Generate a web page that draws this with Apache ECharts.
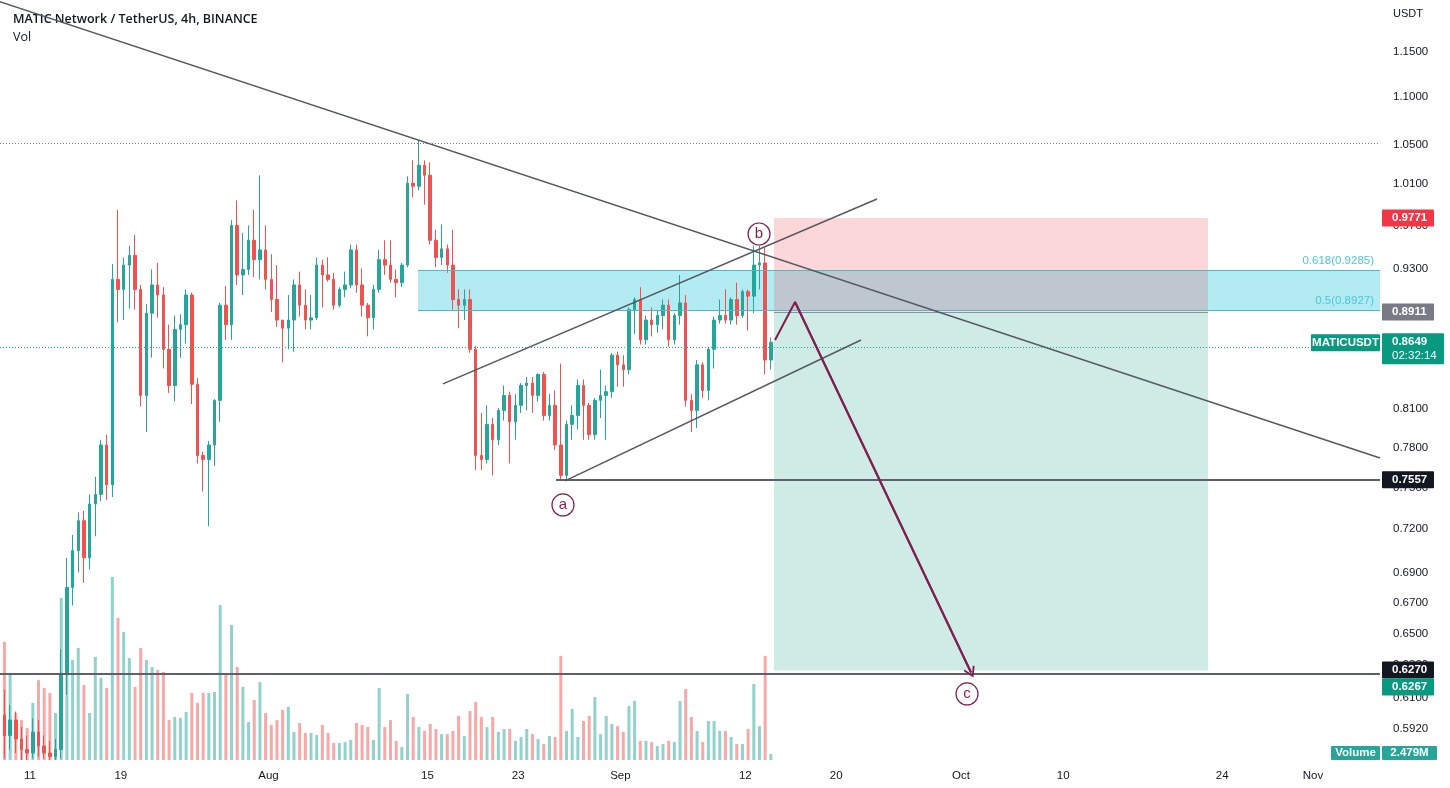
<!DOCTYPE html>
<html><head><meta charset="utf-8">
<script src="https://cdn.jsdelivr.net/npm/echarts@6/dist/echarts.min.js"></script>
<style>html,body{margin:0;padding:0;background:#fff}#c{width:1450px;height:788px}</style>
</head><body><div id="c"></div>
<script>
// ---------- DATA (12h candles, MATIC/USDT) ----------
const candleStart = '2022-07-08T12:00Z';
const candleHours = 12;
const opens = [.600,.588,.597,.586,.580,.578,.590,.582,.578,.576,
.580,.625,.680,.705,.726,.700,.738,.745,.782,.752,
.920,.911,.933,.942,.911,.821,.890,.915,.906,.859,
.829,.876,.880,.906,.830,.774,.771,.782,.817,.897,
.880,.970,.924,.929,.956,.938,.947,.920,.902,.884,
.877,.884,.915,.897,.884,.886,.933,.924,.920,.897,
.911,.915,.947,.915,.897,.886,.911,.938,.933,.920,
.917,.933,1.011,1.008,1.029,1.019,.956,.940,.948,.933,
.902,.897,.902,.859,.774,.771,.798,.786,.809,.821,
.800,.813,.829,.831,.821,.838,.805,.813,.782,.759,
.798,.805,.829,.813,.790,.817,.821,.824,.854,.846,
.842,.893,.902,.867,.884,.880,.888,.897,.867,.888,
.899,.817,.809,.846,.825,.859,.884,.888,.884,.902,
.888,.909,.905,.933,.935,.850];
const closes = [.588,.597,.586,.580,.578,.590,.582,.578,.576,.580,
.625,.680,.705,.726,.700,.738,.745,.782,.752,.920,
.911,.933,.942,.911,.821,.890,.915,.906,.859,.829,
.876,.880,.906,.830,.774,.771,.782,.817,.897,.880,
.970,.924,.929,.956,.938,.947,.920,.902,.884,.877,
.884,.915,.897,.884,.886,.933,.924,.920,.897,.911,
.915,.947,.915,.897,.886,.911,.938,.933,.920,.917,
.933,1.011,1.008,1.029,1.019,.956,.940,.948,.933,.902,
.897,.902,.859,.774,.771,.798,.786,.809,.821,.800,
.813,.829,.831,.821,.838,.805,.813,.782,.759,.798,
.805,.829,.813,.790,.817,.821,.824,.854,.846,.842,
.893,.902,.867,.884,.880,.888,.897,.867,.888,.899,
.817,.809,.846,.825,.859,.884,.888,.884,.902,.888,
.909,.905,.933,.935,.850,.8649];
const lows = [.575,.580,.578,.574,.574,.575,.576,.575,.574,.574,
.575,.612,.668,.690,.683,.692,.715,.740,.741,.743,
.882,.884,.894,.893,.812,.792,.852,.886,.843,.823,
.816,.852,.864,.814,.768,.747,.722,.766,.800,.867,
.867,.915,.906,.924,.922,.920,.911,.891,.878,.848,
.859,.857,.887,.876,.876,.884,.895,.918,.893,.895,
.904,.912,.908,.887,.870,.876,.908,.924,.917,.904,
.913,.931,.997,1.004,.990,.952,.931,.933,.926,.893,
.877,.884,.856,.763,.763,.768,.759,.782,.801,.768,
.786,.807,.809,.807,.816,.801,.801,.778,.756,.756,
.786,.794,.786,.786,.786,.803,.786,.819,.828,.828,
.838,.872,.863,.863,.870,.873,.876,.861,.863,.880,
.812,.792,.795,.819,.817,.843,.881,.881,.880,.880,
.886,.875,.890,.911,.838,.842];
const highs = [.615,.606,.602,.593,.588,.598,.597,.588,.585,.586,
.640,.700,.716,.732,.733,.745,.758,.786,.790,.934,
.985,.940,.951,.961,.915,.898,.929,.935,.913,.880,
.888,.889,.911,.908,.835,.777,.785,.818,.899,.914,
.975,.994,.963,.970,.985,1.019,.970,.943,.933,.884,
.906,.920,.927,.911,.906,.940,.938,.940,.926,.913,
.927,.952,.952,.930,.899,.915,.947,.956,.956,.929,
.935,1.018,1.034,1.055,1.034,1.032,.966,.971,.952,.966,
.911,.911,.911,.862,.807,.813,.803,.811,.829,.824,
.822,.831,.836,.836,.839,.840,.822,.825,.847,.801,
.813,.834,.834,.815,.819,.842,.829,.856,.857,.854,
.895,.904,.913,.888,.895,.893,.902,.902,.890,.924,
.906,.822,.850,.848,.861,.887,.902,.911,.904,.917,
.911,.911,.951,.951,.949,.869];
const volumesM = [48.8,36,19.4,16.5,13.2,23.6,33,29.8,27.7,19.4,
67,57.9,41.3,46.3,31,19.4,42.6,33.9,29.8,75.6,
58.7,52.9,42.1,30.2,46.3,41.3,38.4,37.2,36.4,16.5,
17.8,17.4,19.8,27.7,23.6,27.7,27.7,28.1,64,36,
55.8,38.4,30.2,15.7,24.8,32.2,19.4,14.5,16.5,20.7,
21.9,11.6,15.3,11.2,11.2,10.3,14.5,11.2,7,7,
7.4,8.3,15.3,14.5,13.6,8.3,29.8,13.6,16.5,7.9,
5.4,27.3,17.8,13.6,12,14.9,12.8,10.7,10.7,12,
18.2,9.9,20.2,24,17.8,13.6,17.8,11.6,12.8,12.8,
7.9,9.5,12.8,10.7,8.7,6.6,9.9,9.5,43,12,
21.1,9.5,16.1,18.2,26,10.7,18.2,14.9,14,11.6,
22.3,24.4,7.9,7.9,7.4,5.8,6.6,7.9,7.4,24.4,
29.3,17.8,12,7.4,16.1,16.1,12,12,9.5,6.6,
6.6,12.8,31.4,14,43,2.479];

const priceTicks = [1.15,1.10,1.05,1.01,0.97,0.93,0.89,0.85,0.81,0.78,0.75,0.72,0.69,0.67,0.65,0.63,0.61,0.592];
const timeTicks = ['2022-07-11','2022-07-19','2022-08-01','2022-08-15','2022-08-23','2022-09-01','2022-09-12','2022-09-20','2022-10-01','2022-10-10','2022-10-24','2022-11-01'];
const monthNames = ['Jan','Feb','Mar','Apr','May','Jun','Jul','Aug','Sep','Oct','Nov','Dec'];

// drawings: [time, price]
const resistanceLine = [['2022-07-07T12:00Z',1.2119],['2022-11-06T21:36Z',0.7721]];
const channelUpper = [['2022-08-16T08:53Z',0.8303],['2022-09-23T14:24Z',0.9955]];
const channelLower = [['2022-08-27T02:53Z',0.7549],['2022-09-22T04:34Z',0.8669]];
const supportLevel = {from:'2022-08-26T07:55Z', price:0.7557};
const targetLevel = 0.6270;
const highLevel = 1.054;
const lastPrice = 0.8649;
const fibLevels = [{name:'0.618(0.9285)', price:0.9285},{name:'0.5(0.8927)', price:0.8927}];
const fibFrom = '2022-08-14T04:05Z';
const position = {from:'2022-09-14T12:43Z', to:'2022-10-22T18:00Z', stop:0.9771, entry:0.8911, target:0.6267};
const arrowPath = [['2022-09-14T14:53Z',0.8669],['2022-09-16T09:07Z',0.8998],['2022-10-01T21:07Z',0.6255]];
const waveLabels = [['2022-08-26T22:34Z',0.7373,'a'],['2022-09-13T05:00Z',0.9619,'b'],['2022-10-01T12:40Z',0.6125,'c']];
const lastVolumeText = '2.479M';
const countdown = '02:32:14';

// ---------- CHART ----------
const T = s => Date.parse(s);
const L = Math.log;
const XMIN = T('2022-07-08T08:35Z'), XMAX = T('2022-11-06T21:36Z');
const YMAX = 0.19079, YMIN = -0.55700;
const VOLMAX = 82.64;
const UP = '#26a69a', DOWN = '#ef5350', MAROON = '#7e1f52', LINE = '#555861';
const t0 = T(candleStart), step = candleHours*3600000;

const candles = opens.map((o,i)=>[t0+i*step+step/2, L(o), L(closes[i]), L(lows[i]), L(highs[i])]);
const vols = volumesM.map((v,i)=>({value:[t0+i*step+step/2, v],
  itemStyle:{color: closes[i]>=opens[i] ? 'rgba(38,166,154,0.5)' : 'rgba(239,83,80,0.5)'}}));
const pt = a => [T(a[0]), L(a[1])];

const chart = echarts.init(document.getElementById('c'), null, {renderer:'canvas'});
const axisFont = {color:'#131722', fontSize:11.5, fontFamily:'Liberation Sans'};

const option = {
  animation:false,
  backgroundColor:'#ffffff',
  title:{text:'MATIC Network / TetherUS, 4h, BINANCE', subtext:'Vol', left:8, top:8, itemGap:5,
    textStyle:{fontSize:12.5, fontWeight:600, color:'#131722', fontFamily:'Open Sans'},
    subtextStyle:{fontSize:12.5, color:'#131722', fontFamily:'Open Sans'}},
  grid:[{left:0, right:70, top:0, bottom:26},{left:0, right:70, top:560, bottom:28}],
  xAxis:[
    {type:'value', min:XMIN, max:XMAX, gridIndex:0, axisLine:{show:false}, axisTick:{show:false}, splitLine:{show:false},
     axisLabel:Object.assign({customValues: timeTicks.map(d=>T(d+'T00:00:00Z')), margin:8,
       formatter:v=>{const d=new Date(v); return d.getUTCDate()===1 ? monthNames[d.getUTCMonth()] : String(d.getUTCDate());}}, axisFont)},
    {type:'value', min:XMIN, max:XMAX, gridIndex:1, show:false}
  ],
  yAxis:[
    {type:'value', position:'right', min:YMIN, max:YMAX, gridIndex:0, axisLine:{show:false}, axisTick:{show:false}, splitLine:{show:false},
     axisLabel:Object.assign({customValues: priceTicks.map(L), margin:13, formatter:v=>Math.exp(v).toFixed(4)}, axisFont)},
    {type:'value', min:0, max:VOLMAX, gridIndex:1, show:false}
  ],
  series:[
    {type:'bar', name:'vol', xAxisIndex:1, yAxisIndex:1, data:vols, barWidth:3, z:1, silent:true},
    {type:'line', name:'fib', data:[], z:2, silent:true,
     markArea:{silent:true, itemStyle:{color:'rgba(0,188,212,0.3)'},
       data:[[{coord:[T(fibFrom), L(fibLevels[0].price)]},{coord:[XMAX, L(fibLevels[1].price)]}]]},
     markLine:{silent:true, symbol:['none','none'], lineStyle:{color:'#3fbfd3', width:1, type:'solid'},
       label:{show:true, position:'insideEndTop', formatter:'{b}', color:'#4cc6da', fontSize:11.5, fontFamily:'Liberation Sans', distance:[6,3]},
       data:fibLevels.map(f=>[{name:f.name, coord:[T(fibFrom), L(f.price)]},{coord:[XMAX, L(f.price)]}])}},
    {type:'line', name:'position', data:[], z:3, silent:true,
     markArea:{silent:true, data:[
       [{coord:[T(position.from), L(position.stop)], itemStyle:{color:'rgba(242,54,69,0.2)'}},{coord:[T(position.to), L(position.entry)]}],
       [{coord:[T(position.from), L(position.entry)], itemStyle:{color:'rgba(8,153,129,0.2)'}},{coord:[T(position.to), L(position.target)]}]
     ]},
     markLine:{silent:true, symbol:['none','none'], label:{show:false}, lineStyle:{color:'#8f939c', width:1, type:'solid'},
       data:[[{coord:[T(position.from), L(position.entry)]},{coord:[T(position.to), L(position.entry)]}]]}},
    {type:'candlestick', name:'MATICUSDT', data:candles, barWidth:3, z:4, clip:true,
     itemStyle:{color:UP, color0:DOWN, borderColor:UP, borderColor0:DOWN, borderWidth:1}},
    {type:'line', name:'levels', data:[], z:5, silent:true,
     markLine:{silent:true, symbol:['none','none'], label:{show:false}, data:[
       {yAxis:L(highLevel), lineStyle:{color:'#787b86', width:1, type:[1,2]}},
       {yAxis:L(lastPrice), lineStyle:{color:'#26a69a', width:1, type:[1,2]}},
       {yAxis:L(targetLevel), lineStyle:{color:'#5d606b', width:2, type:'solid'}},
       [{coord:[T(supportLevel.from), L(supportLevel.price)], lineStyle:{color:'#5d606b', width:2, type:'solid'}},{coord:[XMAX, L(supportLevel.price)]}]
     ]}},
    {type:'line', name:'resistance', data:resistanceLine.map(pt), symbol:'none', z:6, silent:true, lineStyle:{color:LINE, width:1.5}},
    {type:'line', name:'upper', data:channelUpper.map(pt), symbol:'none', z:6, silent:true, lineStyle:{color:LINE, width:1.5}},
    {type:'line', name:'lower', data:channelLower.map(pt), symbol:'none', z:6, silent:true, lineStyle:{color:LINE, width:1.5}},
    {type:'line', name:'arrow', data:arrowPath.map(pt), symbol:'none', z:7, silent:true, lineStyle:{color:MAROON, width:2},
     markLine:{silent:true, symbol:['none','path://M5 0 L10 9 L8.8 10.2 L5 3.2 L1.2 10.2 L0 9 Z'], symbolSize:[12,11],
       label:{show:false}, lineStyle:{color:MAROON, width:2, type:'solid'}, itemStyle:{color:MAROON},
       data:[[{coord:pt(arrowPath[1])},{coord:pt(arrowPath[2])}]]}},
    {type:'scatter', name:'waves', z:8, silent:true, symbolSize:22,
     data:waveLabels.map(w=>[T(w[0]), L(w[1]), w[2]]),
     itemStyle:{color:'#ffffff', borderColor:MAROON, borderWidth:1.2, opacity:1},
     label:{show:true, position:'inside', formatter:p=>p.value[2], color:MAROON, fontSize:15, fontFamily:'Liberation Sans'}}
  ]
};
chart.setOption(option);

// ---------- price-scale tags (positioned through the y axis) ----------
const py = p => chart.convertToPixel({yAxisIndex:0}, L(p));
const TX = 1382;
const ZL = 1;
function rect(x, y, w, h, fill){ return {type:'rect', zlevel:ZL, z:100, shape:{x:x, y:y, width:w, height:h, r:1}, style:{fill:fill}}; }
function txt(text, x, y, bold, align){ return {type:'text', zlevel:ZL, z:101, style:{text:text, x:x, y:y, fill:'#fff', fontSize:11.5, fontWeight:bold?'bold':'normal', fontFamily:'Liberation Sans', verticalAlign:'middle', align:align||'left'}}; }
function tagEl(cy, text, color){ return [rect(TX, cy-8.5, 52, 17, color), txt(text, TX+10, cy, true)]; }
const yT = py(targetLevel);
const yLast = py(lastPrice);
const graphics = [].concat(
  [{type:'text', z:100, style:{text:'USDT', x:1393, y:14, fill:'#131722', fontSize:11, fontFamily:'Liberation Sans', verticalAlign:'middle'}}],
  tagEl(py(position.stop), position.stop.toFixed(4), '#f23645'),
  tagEl(py(position.entry), position.entry.toFixed(4), '#787b86'),
  tagEl(py(supportLevel.price), supportLevel.price.toFixed(4), '#131722'),
  tagEl(yT, targetLevel.toFixed(4), '#131722'),
  tagEl(yT+17, position.target.toFixed(4), '#089981'),
  [rect(TX, yLast-9, 62, 31, '#089981'), txt(lastPrice.toFixed(4), TX+10, yLast, true), txt(countdown, TX+10, yLast+14, false)],
  [rect(1311, yLast-8, 69, 17, '#089981'), txt('MATICUSDT', 1345.5, yLast+0.5, true, 'center')],
  [rect(1331, 746, 49, 14, '#26a69a'), txt('Volume', 1355.5, 753, true, 'center'),
   rect(1382, 746, 55, 14, '#26a69a'), txt(lastVolumeText, 1409.5, 753, true, 'center')]
);
chart.setOption({graphic:graphics});
</script>
</body></html>
